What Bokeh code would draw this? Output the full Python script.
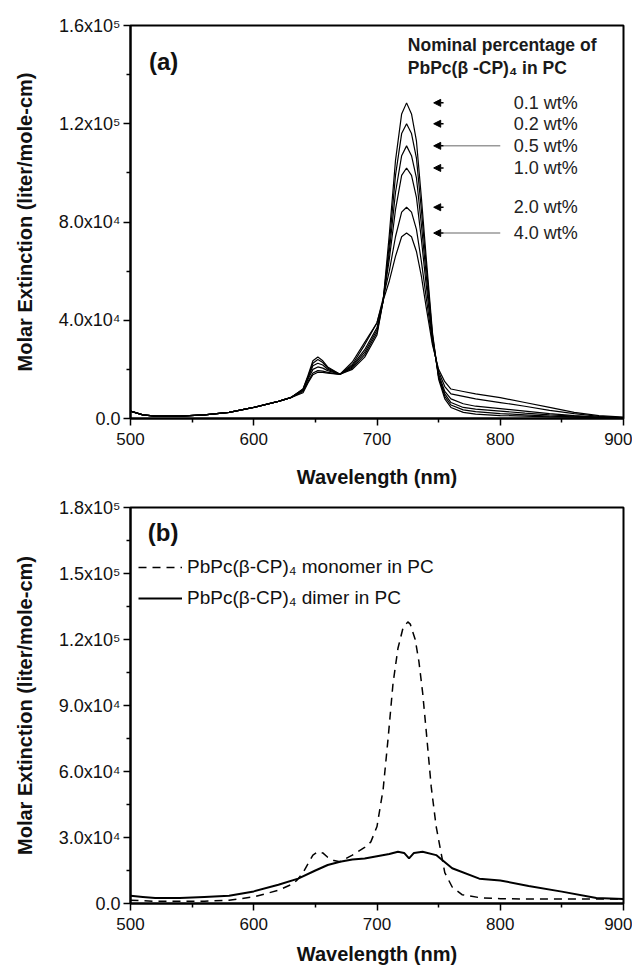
from bokeh.plotting import figure
from bokeh.models import Range1d, FixedTicker, Label, Arrow, NormalHead, Legend, LegendItem
from bokeh.layouts import column
from bokeh.embed import file_html
from bokeh.resources import INLINE

# ---------------- data ----------------
# Panel (a): absorption spectra for several nominal concentrations
WL_A = [500, 510, 520, 540, 560, 580, 600, 620, 630, 640, 644, 648, 652, 656, 660, 670, 680,
        690, 700, 705, 710, 715, 720, 724, 728, 732, 736, 740, 745, 750, 755, 760, 770,
        780, 800, 820, 840, 860, 880, 900]
A_01 = [3000, 1500, 1000, 1000, 1500, 2500, 4500, 7000, 8500, 12000, 17500, 23500, 25000, 23500, 21000, 18000, 20000,
        25000, 34000, 48000, 75000, 105000, 124000, 128500, 124000, 113000, 90000, 65000, 35000, 16000, 8000, 4500, 2500,
        1800, 1200, 1000, 700, 500, 300, 200]
A_02 = [3000, 1500, 1000, 1000, 1500, 2500, 4500, 7000, 8500, 12000, 17000, 22500, 24000, 22800, 20500, 18000, 20500,
        26000, 35000, 48000, 71000, 99000, 116000, 120000, 116000, 106000, 85000, 62000, 34000, 17000, 9000, 5500, 3500,
        2800, 2000, 1500, 1000, 700, 400, 200]
A_05 = [3000, 1500, 1000, 1000, 1500, 2500, 4500, 7000, 8500, 11500, 16500, 21500, 22500, 21800, 20000, 18000, 21000,
        27000, 36000, 48000, 68000, 92000, 107000, 111000, 107000, 98000, 79000, 58000, 33000, 17000, 10000, 6500, 4500,
        3800, 3000, 2200, 1500, 1000, 500, 300]
A_10 = [3000, 1500, 1000, 1000, 1500, 2500, 4500, 7000, 8500, 11500, 16000, 20000, 21000, 20500, 19500, 18000, 21500,
        28000, 37000, 48000, 65000, 85000, 99000, 102000, 99000, 90000, 73000, 54000, 32000, 18000, 11000, 8000, 6000,
        5000, 4000, 3000, 2000, 1200, 600, 300]
A_20 = [3000, 1500, 1000, 1000, 1500, 2500, 4500, 7000, 8500, 11000, 15000, 18500, 19500, 19300, 18800, 18000, 22000,
        30000, 39000, 49000, 60000, 74000, 84000, 86000, 84000, 77000, 64000, 49000, 31000, 19000, 13000, 10000, 9000,
        8000, 6500, 5000, 3300, 2000, 900, 400]
A_40 = [3000, 1500, 1000, 1000, 1500, 2500, 4500, 7000, 8500, 10500, 14500, 17800, 18800, 18800, 18500, 18000, 23000,
        31000, 39000, 48000, 56000, 66000, 74000, 75500, 74000, 68000, 58000, 45000, 30000, 20000, 15000, 12000, 11000,
        10000, 8500, 6500, 4500, 2500, 1200, 600]
SERIES_A = [A_01, A_02, A_05, A_10, A_20, A_40]
LABELS_A = ["0.1 wt%", "0.2 wt%", "0.5 wt%", "1.0 wt%", "2.0 wt%", "4.0 wt%"]
LONG_ARROW = [False, False, True, False, False, True]

# Panel (b): monomer and dimer spectra
WL_M = [500, 520, 540, 560, 580, 600, 610, 620, 630, 635, 640, 645, 648, 652, 656, 660, 665, 670, 680, 690, 695,
        700, 705, 709, 713, 717, 721, 725, 727, 731, 734, 737, 740, 744, 748, 751, 755, 761, 769, 785, 800,
        820, 840, 860, 880, 900]
MONO = [1500, 1000, 1000, 1000, 1500, 3000, 4500, 6000, 8500, 10500, 14000, 19000, 22000, 23500, 23000, 21000, 19500, 19000, 22000, 25500, 28000,
        35000, 52000, 75000, 100000, 116000, 125000, 128000, 127000, 120000, 110000, 96000, 78000, 53000, 35000, 26000, 14000, 7500, 4000, 2500, 2200,
        2000, 2000, 2000, 2000, 2000]
WL_D = [500, 510, 520, 540, 560, 580, 600, 620, 636, 650, 660, 670, 680, 690, 700, 710, 717, 722, 726, 730,
        737, 748, 761, 783, 800, 823, 850, 878, 900]
DIMER = [3500, 3000, 2500, 2500, 3000, 3500, 5500, 8500, 11300, 15000, 17500, 19000, 20000, 20500, 21500, 22500, 23500, 23000, 20500, 23000,
         23500, 22000, 16000, 11300, 10500, 8000, 5400, 2500, 2000]

X_TICKS = [500, 600, 700, 800, 900]
X_MINOR = [550, 650, 750, 850]
YA_TICKS = [0, 40000, 80000, 120000, 160000]
YA_MINOR = [20000, 60000, 100000, 140000]
YA_LABELS = ["0.0", "4.0x10⁴", "8.0x10⁴", "1.2x10⁵", "1.6x10⁵"]
YB_TICKS = [0, 30000, 60000, 90000, 120000, 150000, 180000]
YB_MINOR = [15000, 45000, 75000, 105000, 135000, 165000]
YB_LABELS = ["0.0", "3.0x10⁴", "6.0x10⁴", "9.0x10⁴", "1.2x10⁵", "1.5x10⁵", "1.8x10⁵"]

FONT = "Liberation Sans"


def make_fig(height, left, top, bottom, ymax, yt, ym, yl, title_standoff):
    p = figure(width=632, height=height, output_backend="svg", toolbar_location=None,
               x_range=Range1d(500, 900), y_range=Range1d(0, ymax),
               min_border_left=left, min_border_right=9, min_border_top=top, min_border_bottom=bottom)
    p.outline_line_color = "black"
    p.outline_line_width = 2
    p.outline_line_alpha = 1
    p.xgrid.visible = False
    p.ygrid.visible = False
    p.xaxis.ticker = FixedTicker(ticks=X_TICKS, minor_ticks=X_MINOR)
    p.yaxis.ticker = FixedTicker(ticks=yt, minor_ticks=ym)
    p.yaxis.major_label_overrides = {t: s for t, s in zip(yt, yl)}
    p.xaxis.axis_label = "Wavelength (nm)"
    p.yaxis.axis_label = "Molar Extinction (liter/mole-cm)"
    for ax in (p.xaxis[0], p.yaxis[0]):
        ax.axis_line_width = 2
        ax.axis_line_color = "black"
        ax.major_tick_in = 0
        ax.major_tick_out = 7
        ax.minor_tick_in = 0
        ax.minor_tick_out = 4
        ax.major_tick_line_width = 1.5
        ax.minor_tick_line_width = 1.5
        ax.major_tick_line_color = "black"
        ax.minor_tick_line_color = "black"
        ax.major_label_text_font = FONT
        ax.major_label_text_color = "#111111"
        ax.axis_label_text_font = FONT
        ax.axis_label_text_font_style = "bold"
        ax.axis_label_text_font_size = "20px"
        ax.axis_label_text_color = "#111111"
    p.xaxis.major_label_text_font_size = "17px"
    p.yaxis.major_label_text_font_size = "18px"
    p.xaxis.major_label_standoff = 7
    p.xaxis.axis_label_standoff = title_standoff
    p.yaxis.major_label_standoff = 3
    p.yaxis.axis_label_standoff = 20
    return p


# ---------------- panel (a) ----------------
p1 = make_fig(490, 129, 25, 67, 160000, YA_TICKS, YA_MINOR, YA_LABELS, 18)
for s in SERIES_A:
    p1.line(WL_A, s, line_color="black", line_width=1.2)

p1.add_layout(Label(x=515, y=145500, text="(a)", text_font=FONT, text_font_style="bold",
                    text_font_size="24px", text_baseline="middle", text_color="#111111"))
p1.add_layout(Label(x=725, y=152000, text="Nominal percentage of", text_font=FONT,
                    text_font_style="bold", text_font_size="17.5px", text_baseline="middle",
                    text_color="#1a1a1a"))
p1.add_layout(Label(x=725, y=142700, text="PbPc(β -CP)₄ in PC", text_font=FONT,
                    text_font_style="bold", text_font_size="17.5px", text_baseline="middle",
                    text_color="#1a1a1a"))

for s, lab, long_ in zip(SERIES_A, LABELS_A, LONG_ARROW):
    yv = max(s)
    if long_:
        p1.segment(x0=[754], y0=[yv], x1=[800], y1=[yv], line_color="#999999", line_width=1.5)
    p1.add_layout(Arrow(end=NormalHead(size=7, fill_color="black", line_color="black"),
                        x_start=754, y_start=yv, x_end=746, y_end=yv,
                        line_color="black", line_width=1.5))
    p1.add_layout(Label(x=811, y=yv, text=lab, text_font=FONT, text_font_size="18px",
                        text_baseline="middle", text_color="#222222"))

# ---------------- panel (b) ----------------
p2 = make_fig(477, 130, 17, 62, 180000, YB_TICKS, YB_MINOR, YB_LABELS, 10)
r_mono = p2.line(WL_M, MONO, line_color="black", line_width=1.5, line_dash="8 6")
r_dim = p2.line(WL_D, DIMER, line_color="black", line_width=2)
p2.add_layout(Label(x=514, y=168700, text="(b)", text_font=FONT, text_font_style="bold",
                    text_font_size="24px", text_baseline="middle", text_color="#111111"))
leg = Legend(items=[LegendItem(label="PbPc(β-CP)₄ monomer in PC", renderers=[r_mono]),
                    LegendItem(label="PbPc(β-CP)₄ dimer in PC", renderers=[r_dim])],
             location=(8, 294), border_line_color=None, background_fill_alpha=0,
             padding=0, margin=0, spacing=9, glyph_width=44, glyph_height=20,
             label_height=20, label_standoff=5, label_text_font=FONT,
             label_text_font_size="19px", label_text_color="#111111")
p2.add_layout(leg)

layout = column(p1, p2, spacing=0)
open("out.html", "w").write(file_html(layout, INLINE))
